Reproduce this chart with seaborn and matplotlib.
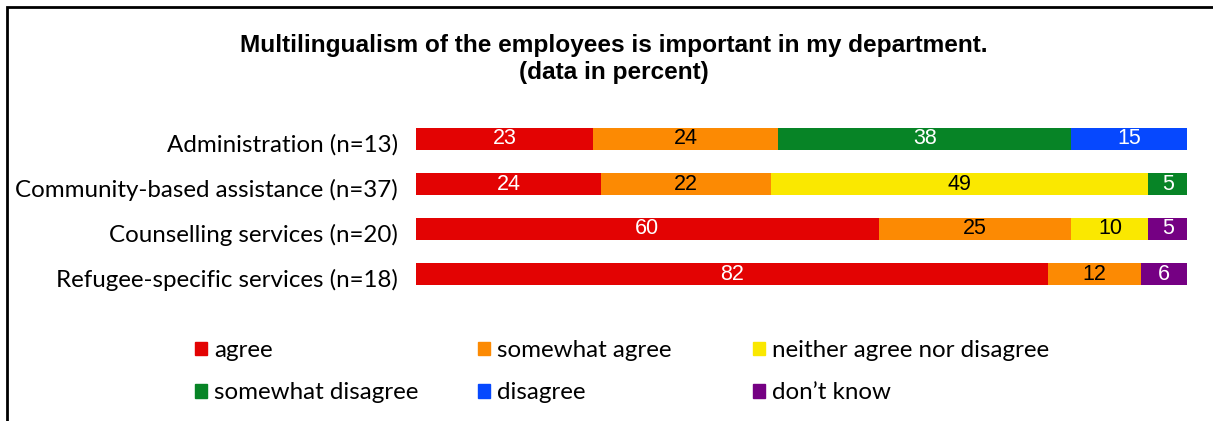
import numpy as np
import pandas as pd
import matplotlib
matplotlib.use("Agg")
import matplotlib.pyplot as plt
import matplotlib.patches as mpatches
import matplotlib.transforms as mtransforms
import seaborn as sns

categories = ["Administration (n=13)", "Community-based assistance (n=37)",
              "Counselling services (n=20)", "Refugee-specific services (n=18)"]
series = ["agree", "somewhat agree", "neither agree nor disagree",
          "somewhat disagree", "disagree", "don\u2019t know"]
agree = [23, 24, 60, 82]
somewhat_agree = [24, 22, 25, 12]
neither = [0, 49, 10, 0]
somewhat_disagree = [38, 5, 0, 0]
disagree = [15, 0, 0, 0]
dont_know = [0, 0, 5, 6]
title = "Multilingualism of the employees is important in my department.\n(data in percent)"

colors = ["#E30303", "#FC8A03", "#FAE800", "#078426", "#0648FE", "#750083"]
text_colors = ["white", "black", "black", "white", "white", "white"]

values = [agree, somewhat_agree, neither, somewhat_disagree, disagree, dont_know]
df = pd.DataFrame({s: v for s, v in zip(series, values)}, index=categories)
cum = df.cumsum(axis=1)

sns.set_theme(style="white")
plt.rcParams["text.color"] = "black"
label_font = ["Lato", "DejaVu Sans"]
num_font = ["Liberation Sans", "DejaVu Sans"]

W, H = 1213, 421
fig = plt.figure(figsize=(W / 100, H / 100), dpi=100)
ax = fig.add_axes([416 / W, 1 - 296.5 / H, (1187 - 416) / W, 180 / H])

for i in range(len(series) - 1, -1, -1):
    s = series[i]
    d = pd.DataFrame({"cat": categories, "x": cum[s].values})
    sns.barplot(data=d, x="x", y="cat", orient="h", color=colors[i],
                saturation=1, width=0.49, ax=ax, linewidth=0)

for i, s in enumerate(series):
    for j, c in enumerate(categories):
        v = df.loc[c, s]
        if v > 0:
            ax.text(cum.loc[c, s] - v / 2, j, str(v), ha="center", va="center",
                    color=text_colors[i], fontsize=15.5, family=num_font)

ax.set_xlim(0, 100)
ax.set_ylim(3.5, -0.5)
ax.set_xlabel("")
ax.set_ylabel("")
ax.set_xticks([])
sns.despine(ax=ax, left=True, bottom=True)
ax.tick_params(axis="y", length=0, pad=13)
shift = mtransforms.ScaledTranslation(0, -4 / 100, fig.dpi_scale_trans)
for lab in ax.get_yticklabels():
    lab.set_family(label_font)
    lab.set_fontsize(17.4)
    lab.set_color("black")
    lab.set_transform(lab.get_transform() + shift)

fig.text(614 / W, 1 - 59 / H, title, ha="center", va="center", fontsize=17.6,
         fontweight="bold", color="black",
         family=["Liberation Sans Narrow", "Liberation Sans"], linespacing=1.25)

# legend: three columns
col_x = [195, 478, 753]
for k in range(3):
    handles = []
    for idx in (k, k + 3):
        handles.append(mpatches.Patch(color=colors[idx], label=series[idx]))
    leg = fig.legend(handles=handles, loc="upper left",
                     bbox_to_anchor=(col_x[k] / W, 1 - 340 / H),
                     frameon=False, ncol=1, handlelength=0.5, handleheight=0.5,
                     handletextpad=0.3, labelspacing=0.88, borderpad=0,
                     borderaxespad=0, prop={"family": label_font, "size": 17.4})
    for t in leg.get_texts():
        t.set_color("black")

frame = mpatches.Rectangle((7 / W, -0.1), 1.2, 1 - 7 / H + 0.1, transform=fig.transFigure,
                           fill=False, edgecolor="black", linewidth=2.0)
fig.patches.append(frame)

fig.savefig("out.png", dpi=100)
